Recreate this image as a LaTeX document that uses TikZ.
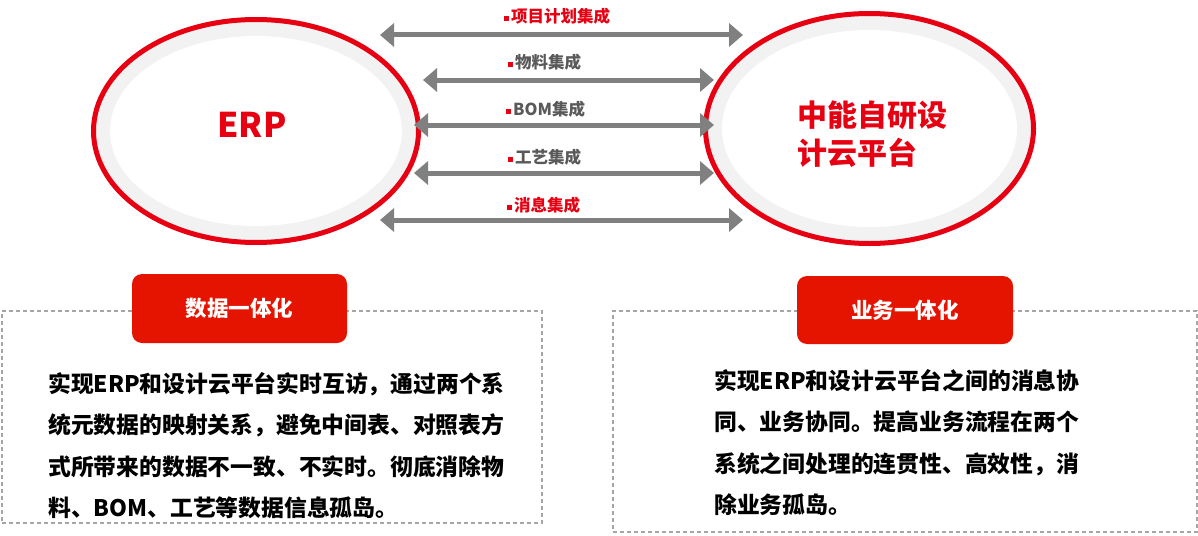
\documentclass[tikz,border=0pt]{standalone}
\usepackage{fontspec}
\setmainfont{Noto Sans CJK SC}
\usepackage{tikz}
\usetikzlibrary{shapes.geometric}
\usetikzlibrary{arrows.meta}
\usetikzlibrary{calc}

\definecolor{ringred}{HTML}{E60012}
\definecolor{ringgrey}{HTML}{F2F2F2}
\definecolor{linkgrey}{HTML}{808080}
\definecolor{labelgrey}{HTML}{595959}
\definecolor{tabred}{HTML}{E51400}
\definecolor{framegrey}{HTML}{A6A6A6}
\newcommand{\sqbullet}{\textcolor{ringred}{\raisebox{1pt}{\rule{5pt}{5pt}}}\hspace{2pt}}

\begin{document}
\begin{tikzpicture}[x=1pt, y=-1pt,
    system/.style={ellipse, draw=ringred, line width=5pt, fill=ringgrey, inner sep=0pt,
        path picture={\fill[white] let \p1=(path picture bounding box.north east), \p2=(path picture bounding box.center)
            in (\p2) ellipse [x radius={\x1-\x2-16.5pt}, y radius={\y1-\y2-16.5pt}];}},
    systitle/.style={text=ringred, inner sep=0pt, align=left},
    link/.style={{Triangle[length=14pt, width=23pt]}-{Triangle[length=14pt, width=23pt]}, draw=linkgrey, line width=5pt},
    linklabel/.style={anchor=west, inner sep=0pt, font=\bfseries\fontsize{16.5}{18}\selectfont},
    frame/.style={rectangle, draw=framegrey, line width=1.5pt, dash pattern=on 4pt off 3pt},
    tab/.style={rectangle, rounded corners=10pt, fill=tabred, text=white, font=\bfseries\fontsize{21.5}{24}\selectfont},
    body/.style={anchor=west, inner sep=0pt, align=left, font=\bfseries\fontsize{22.8}{41.5}\selectfont}
]
\useasboundingbox (0,0) rectangle (1198,535);

% the two systems
\node[system, minimum width=325, minimum height=223] (erp) at (256,131) {};
\node[system, minimum width=328, minimum height=230] (cloud) at (869.5,128.5) {};
\node[systitle, font=\bfseries\fontsize{34}{38}\selectfont] (erptitle) at (252,125) {ERP};
\node[systitle, font=\bfseries\fontsize{30}{38}\selectfont] (cloudtitle) at (872,134) {中能自研设\\计云平台};

% integration links
\coordinate (plan-l) at (380,35);  \coordinate (plan-r) at (743,35);
\coordinate (mat-l) at (423,80);   \coordinate (mat-r) at (714,80);
\coordinate (bom-l) at (414,125);  \coordinate (bom-r) at (714,125);
\coordinate (proc-l) at (414,173); \coordinate (proc-r) at (714,173);
\coordinate (msg-l) at (380,220);  \coordinate (msg-r) at (743,220);

\draw[link] (plan-l) -- (plan-r);
\draw[link] (mat-l) -- (mat-r);
\draw[link] (bom-l) -- (bom-r);
\draw[link] (proc-l) -- (proc-r);
\draw[link] (msg-l) -- (msg-r);

\node[linklabel, text=ringred] (plan) at (504,16) {\sqbullet 项目计划集成};
\node[linklabel, text=labelgrey] (mat) at (508,62) {\sqbullet 物料集成};
\node[linklabel, text=labelgrey] (bom) at (506,109) {\sqbullet BOM集成};
\node[linklabel, text=labelgrey] (proc) at (508,157) {\sqbullet 工艺集成};
\node[linklabel, text=ringred] (msg) at (507,205) {\sqbullet 消息集成};

% bottom panels
\node[frame, minimum width=540, minimum height=212] (databox) at (272,417) {};
\node[frame, minimum width=584, minimum height=221] (bizbox) at (905,421.5) {};
\node[tab, minimum width=215, minimum height=69] (datatab) at (239.5,308.5) {数据一体化};
\node[tab, minimum width=216, minimum height=68] (biztab) at (905,310) {业务一体化};

\node[body] (datatext) at (48,445.5) {实现ERP和设计云平台实时互访，通过两个系\\统元数据的映射关系，避免中间表、对照表方\\式所带来的数据不一致、不实时。彻底消除物\\料、BOM、工艺等数据信息孤岛。};
\node[body] (biztext) at (714,442.5) {实现ERP和设计云平台之间的消息协\\同、业务协同。提高业务流程在两个\\系统之间处理的连贯性、高效性，消\\除业务孤岛。};

\end{tikzpicture}
\end{document}
